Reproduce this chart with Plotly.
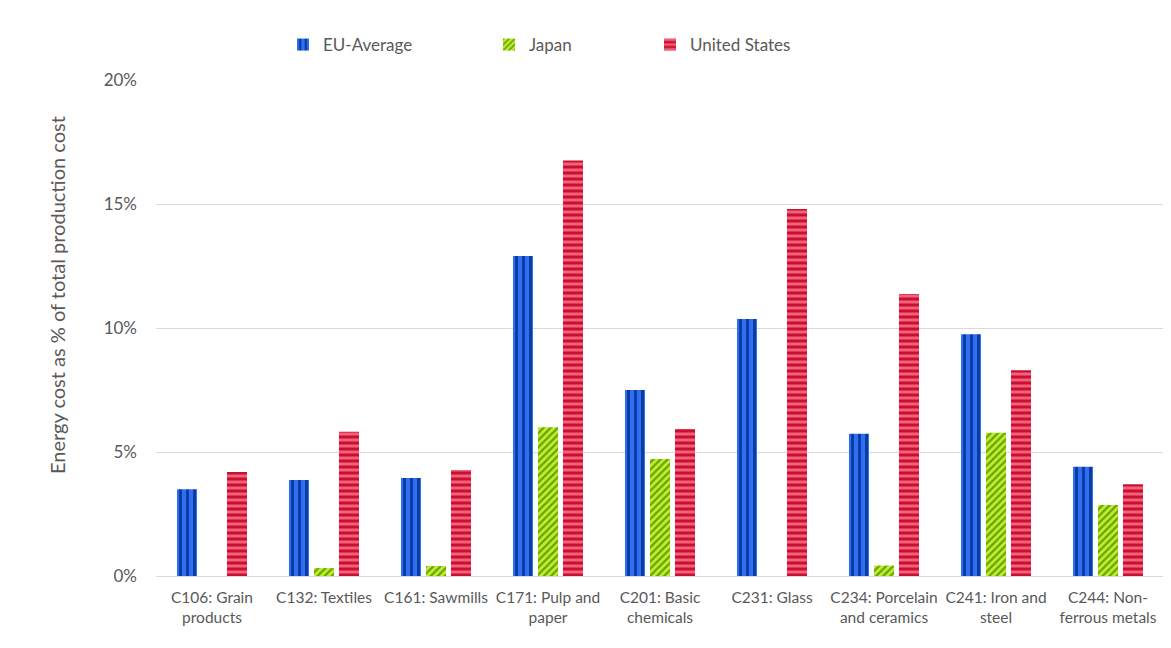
import plotly.graph_objects as go

categories = [
    "C106: Grain<br>products",
    "C132: Textiles",
    "C161: Sawmills",
    "C171: Pulp and<br>paper",
    "C201: Basic<br>chemicals",
    "C231: Glass",
    "C234: Porcelain<br>and ceramics",
    "C241: Iron and<br>steel",
    "C244: Non-<br>ferrous metals",
]
eu_average = [3.5, 3.87, 3.95, 12.9, 7.5, 10.36, 5.74, 9.75, 4.41]
japan = [None, 0.32, 0.4, 6.0, 4.72, None, 0.42, 5.78, 2.86]
united_states = [4.19, 5.82, 4.27, 16.75, 5.93, 14.8, 11.37, 8.3, 3.7]
y_ticks = [0, 5, 10, 15, 20]
y_tick_labels = ["0%", "5%", "10%", "15%", "20%"]
y_title = "Energy cost as % of total production cost"

FONT = "Lato, 'Open Sans', sans-serif"
GRAY = "#595959"

fig = go.Figure()
fig.add_trace(go.Bar(
    name="EU-Average", x=categories, y=eu_average, legend="legend",
    marker=dict(color="#2e6ff2", line=dict(width=0),
                pattern=dict(shape="|", fgcolor="#0a38a0", bgcolor="#2e6ff2",
                             size=7, solidity=0.4, fillmode="replace")),
))
fig.add_trace(go.Bar(
    name="Japan", x=categories, y=japan, legend="legend2",
    marker=dict(color="#b5e827", line=dict(width=0),
                pattern=dict(shape="/", fgcolor="#6aa300", bgcolor="#bdef35",
                             size=5, solidity=0.45, fillmode="replace")),
))
fig.add_trace(go.Bar(
    name="United States", x=categories, y=united_states, legend="legend3",
    marker=dict(color="#ee5675", line=dict(width=0),
                pattern=dict(shape="-", fgcolor="#c8102e", bgcolor="#f2617d",
                             size=6, solidity=0.5, fillmode="replace")),
))

# the page body adds an 8px offset; the figure is sized to fit the window
W, H = 1163, 640
OFF = 8
def leg(px, py):
    return dict(xref="container", yref="container",
                x=(px - OFF) / W, y=1 - (py - OFF) / H,
                xanchor="left", yanchor="middle", orientation="h",
                bgcolor="rgba(0,0,0,0)", font=dict(family=FONT, size=17, color=GRAY))

fig.update_layout(
    width=W, height=H, autosize=False,
    margin=dict(l=148, r=7, t=72, b=72, autoexpand=False),
    plot_bgcolor="white", paper_bgcolor="white",
    font=dict(family=FONT, color=GRAY),
    barmode="group", bargap=0.33, bargroupgap=0.2,
    showlegend=True,
    legend=leg(283, 45),
    legend2=leg(489, 45),
    legend3=leg(650, 45),
    xaxis=dict(
        tickfont=dict(family=FONT, size=15.5, color=GRAY),
        showline=False, showgrid=False, ticks="", automargin=False,
        ticklabelstandoff=10,
    ),
    yaxis=dict(
        range=[0, 20], tickvals=y_ticks, ticktext=y_tick_labels,
        tickfont=dict(family=FONT, size=17, color=GRAY),
        showgrid=True, gridcolor="#d9d9d9", gridwidth=1,
        zeroline=True, zerolinecolor="#d9d9d9", zerolinewidth=1,
        showline=False, ticks="", ticklabelstandoff=18, automargin=False,
    ),
    annotations=[dict(
        text=y_title, textangle=-90, showarrow=False,
        xref="paper", yref="paper", x=(57 - 156) / 1008, y=(576 - 295) / 496,
        xanchor="center", yanchor="middle",
        font=dict(family=FONT, size=20, color=GRAY),
    )],
)

fig.write_html("out.html")
